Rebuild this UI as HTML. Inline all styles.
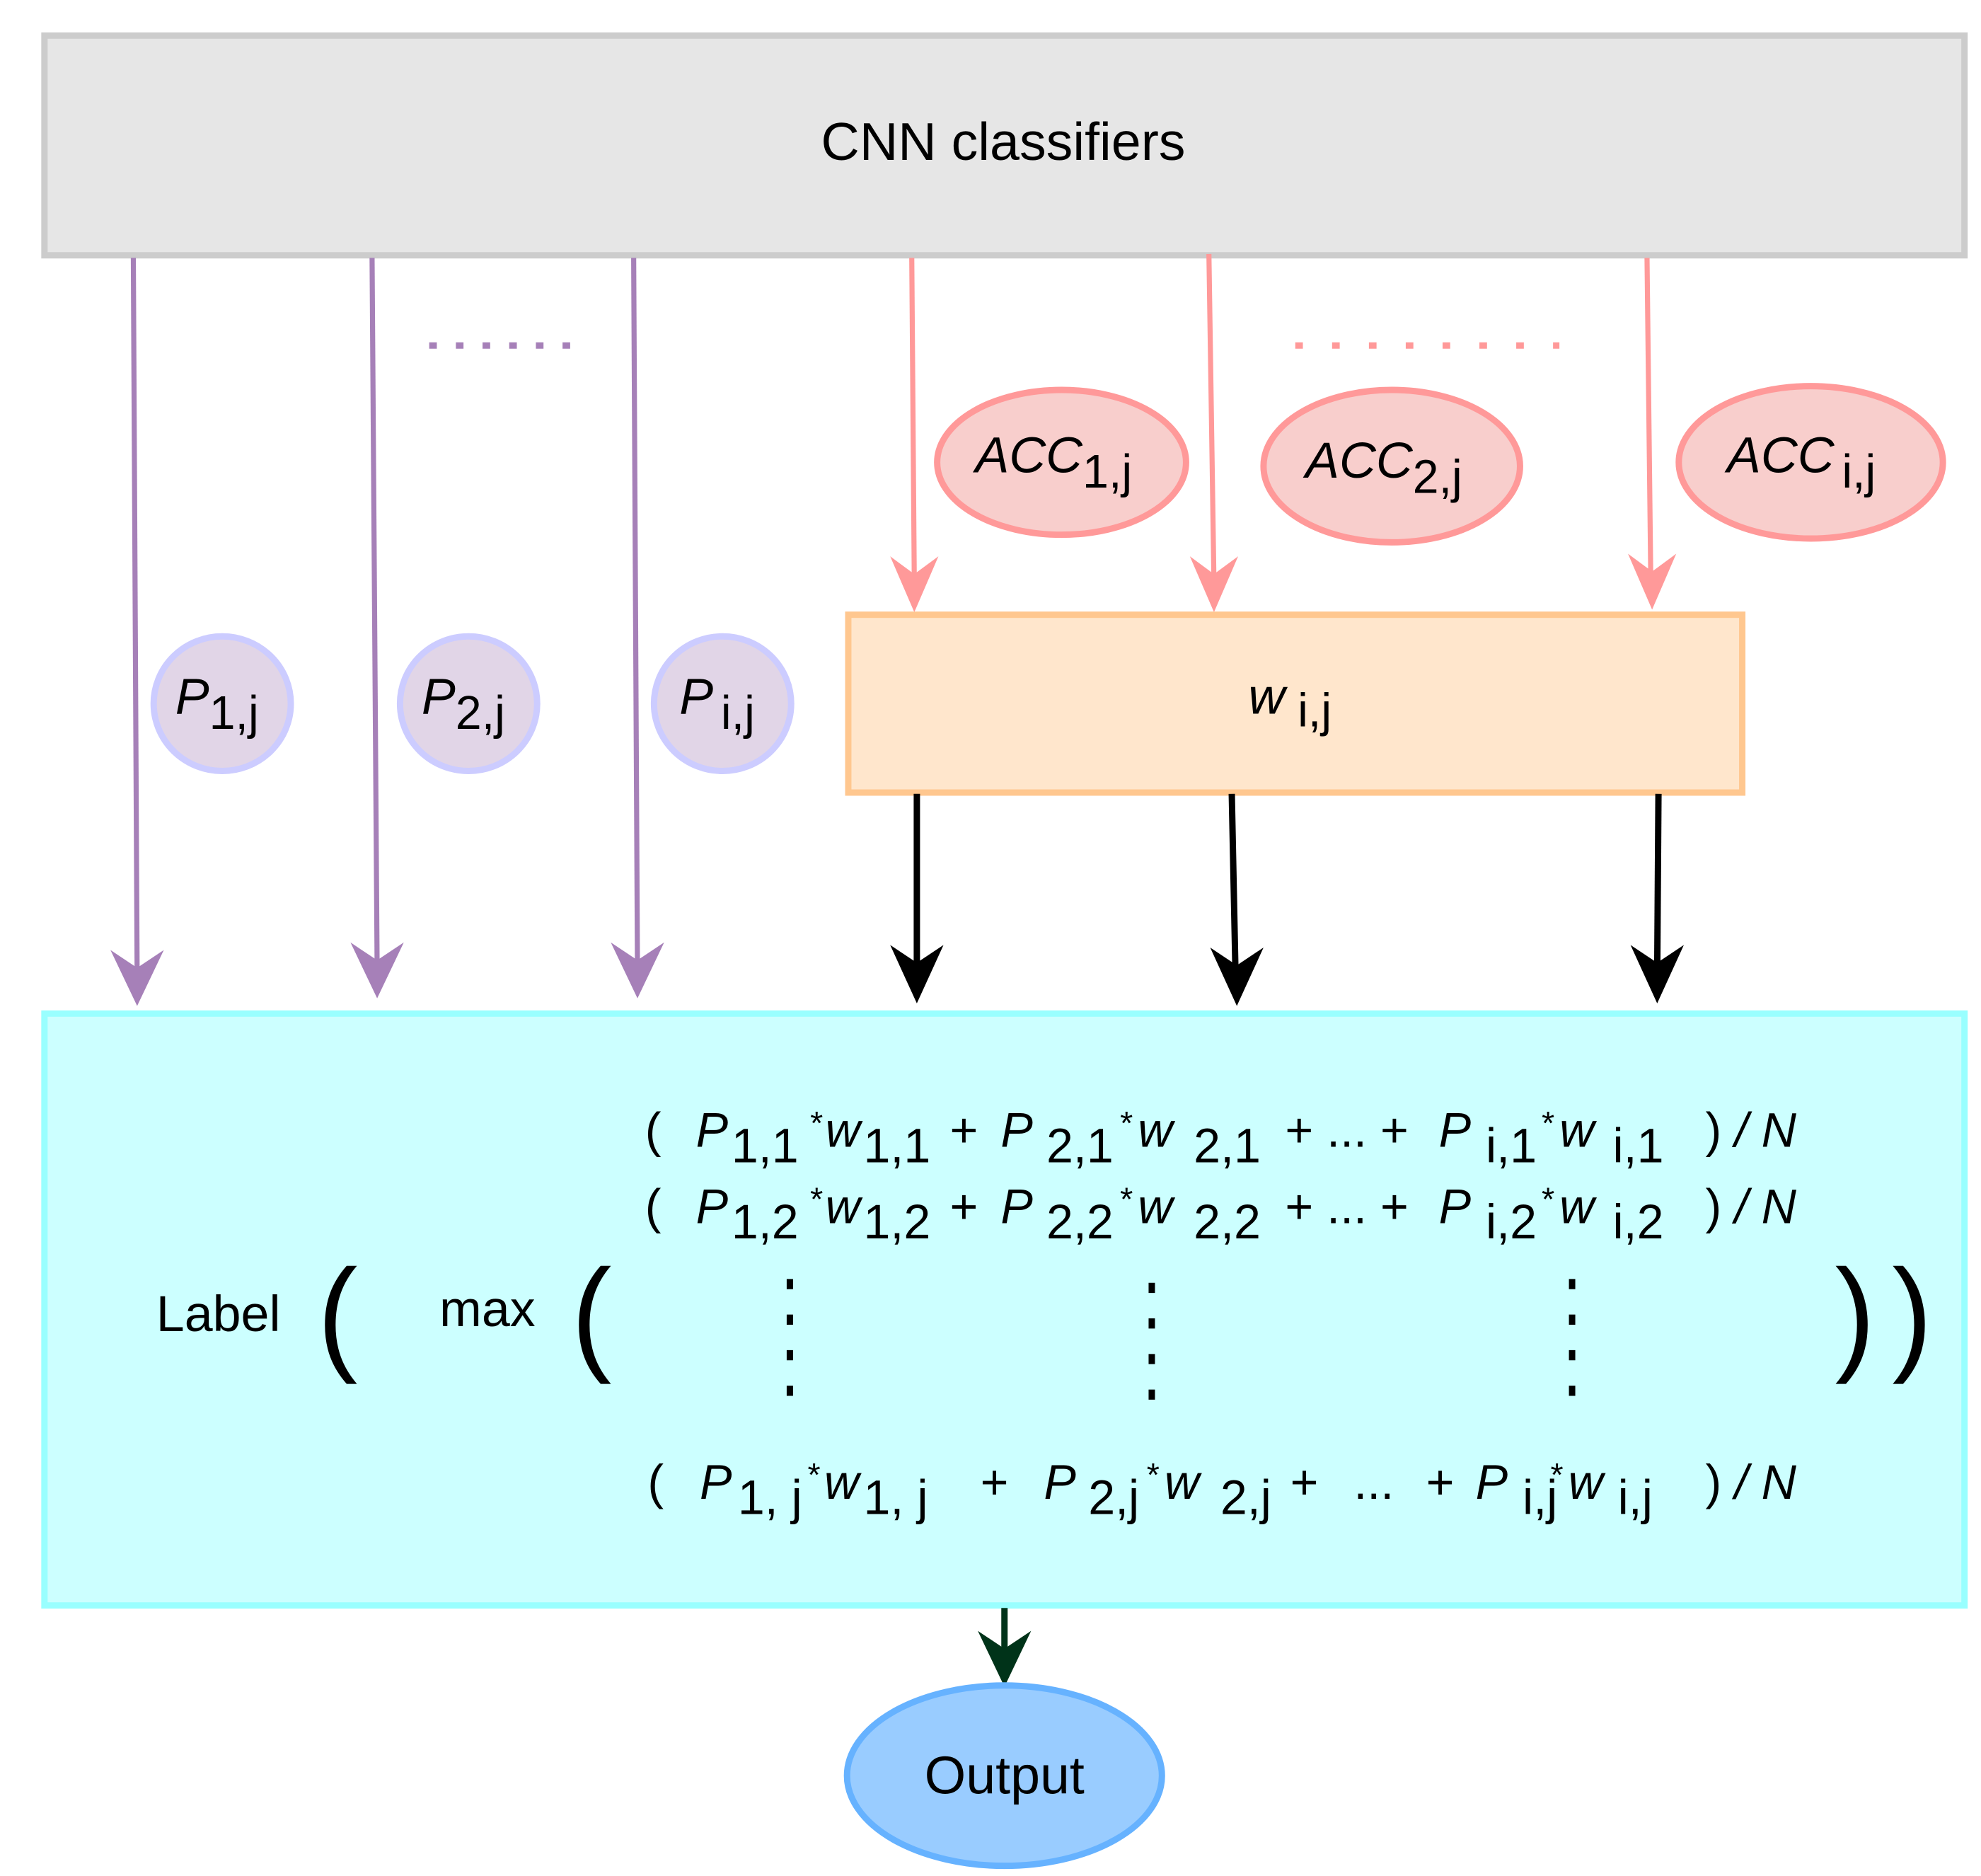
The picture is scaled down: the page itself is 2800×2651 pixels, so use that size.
<!DOCTYPE html>
<html><head><meta charset="utf-8"><style>
html,body{margin:0;padding:0;background:#fff;}
svg{display:block;}
text{font-family:"Liberation Sans",Arial,sans-serif;fill:#000;}
.i{font-style:italic;}
</style></head><body>
<svg width="2800" height="2651" viewBox="0 0 1560 1477" preserveAspectRatio="none" xmlns="http://www.w3.org/2000/svg">
<!-- CNN box -->
<rect x="35" y="28" width="1512" height="173" fill="#e6e6e6" stroke="#cccccc" stroke-width="5"/>
<text x="790" y="126" font-size="42" text-anchor="middle">CNN classifiers</text>

<!-- purple arrows -->
<g stroke="#a680b8" stroke-width="4" fill="none">
<line x1="105" y1="203" x2="108" y2="770"/>
<line x1="293" y1="203" x2="297" y2="765"/>
<line x1="499" y1="203" x2="502" y2="765"/>
<line x1="338" y1="272" x2="458" y2="272" stroke-width="5" stroke-dasharray="6,15"/>
</g>
<g fill="#a680b8">
<path d="M108,792 L87,748 L108,762 L129,748 Z"/>
<path d="M297,786 L276,742 L297,756 L318,742 Z"/>
<path d="M502,786 L481,742 L502,756 L523,742 Z"/>
</g>

<!-- pink arrows -->
<g stroke="#ff9999" stroke-width="4" fill="none">
<line x1="718" y1="203" x2="720" y2="460"/>
<line x1="952" y1="200" x2="956" y2="460"/>
<line x1="1297" y1="203" x2="1300" y2="460"/>
<line x1="1020" y1="272" x2="1228" y2="272" stroke-width="5" stroke-dasharray="6,23"/>
</g>
<g fill="#ff9999">
<path d="M720,482 L701,438 L720,452 L739,438 Z"/>
<path d="M956,482 L937,438 L956,452 L975,438 Z"/>
<path d="M1301,480 L1282,436 L1301,450 L1320,436 Z"/>
</g>

<!-- ACC ellipses -->
<g fill="#f8cecc" stroke="#ff9999" stroke-width="5">
<ellipse cx="836" cy="364" rx="98" ry="57"/>
<ellipse cx="1096" cy="367" rx="101" ry="60"/>
<ellipse cx="1426" cy="364" rx="104" ry="60"/>
</g>
<text x="768" y="372" font-size="40" class="i">ACC<tspan font-style="normal" font-size="37" dy="12">1,j</tspan></text>
<text x="1028" y="376" font-size="40" class="i">ACC<tspan font-style="normal" font-size="37" dy="12">2,j</tspan></text>
<text x="1360" y="372" font-size="40" class="i">ACC<tspan font-style="normal" font-size="37" dx="6" dy="12">i,j</tspan></text>

<!-- P circles -->
<g fill="#e1d5e7" stroke="#ccccff" stroke-width="5">
<ellipse cx="175" cy="554" rx="54" ry="53"/>
<ellipse cx="369" cy="554" rx="54" ry="53"/>
<ellipse cx="569" cy="554" rx="54" ry="53"/>
</g>
<text x="138" y="562" font-size="40" class="i">P<tspan font-style="normal" font-size="37" dy="12">1,j</tspan></text>
<text x="332" y="562" font-size="40" class="i">P<tspan font-style="normal" font-size="37" dy="12">2,j</tspan></text>
<text x="535" y="562" font-size="40" class="i">P<tspan font-style="normal" font-size="37" dx="6" dy="12">i,j</tspan></text>

<!-- w box -->
<rect x="668" y="484" width="704" height="140" fill="#ffe6cc" stroke="#ffc78f" stroke-width="5"/>
<text x="983" y="562" font-size="40" class="i">w<tspan font-style="normal" font-size="37" dx="10" dy="10">i,j</tspan></text>

<!-- black arrows -->
<g stroke="#000" stroke-width="5" fill="none">
<line x1="722" y1="625" x2="722" y2="770"/>
<line x1="970" y1="625" x2="973" y2="770"/>
<line x1="1306" y1="625" x2="1305" y2="770"/>
</g>
<g fill="#000">
<path d="M722,790 L701,744 L722,758 L743,744 Z"/>
<path d="M974,792 L953,746 L974,760 L995,746 Z"/>
<path d="M1305,790 L1284,744 L1305,758 L1326,744 Z"/>
</g>

<!-- cyan box -->
<rect x="35" y="798" width="1512" height="466" fill="#ccffff" stroke="#99ffff" stroke-width="5"/>

<text x="123" y="1048" font-size="40">Label</text>
<text x="346" y="1044" font-size="40">max</text>
<g font-family="Liberation Sans Narrow" font-size="95" transform="scale(1,1.05)">
<text x="250" y="1018" font-family="Liberation Sans Narrow, Liberation Sans, sans-serif">(</text>
<text x="450" y="1018" font-family="Liberation Sans Narrow, Liberation Sans, sans-serif">(</text>
<text x="1445" y="1018" font-family="Liberation Sans Narrow, Liberation Sans, sans-serif">)</text>
<text x="1490" y="1018" font-family="Liberation Sans Narrow, Liberation Sans, sans-serif">)</text>
</g>

<!-- formula line 1 -->
<g font-size="38">
<text x="508" y="903">(</text>
<text x="548" y="903" class="i">P</text><text x="576" y="915">1,1</text><text x="638" y="893" font-size="26">*</text>
<text x="650" y="903" class="i">w</text><text x="680" y="915">1,1</text>
<text x="748" y="903">+</text>
<text x="788" y="903" class="i">P</text><text x="824" y="915">2,1</text><text x="882" y="893" font-size="26">*</text>
<text x="896" y="903" class="i">w</text><text x="940" y="915">2,1</text>
<text x="1012" y="903">+ ... +</text>
<text x="1133" y="903" class="i">P</text><text x="1170" y="915">i,1</text><text x="1214" y="893" font-size="26">*</text>
<text x="1228" y="903" class="i">w</text><text x="1270" y="915">i,1</text>
<text x="1343" y="903">)</text><text x="1366" y="903" class="i">/ N</text>
</g>
<!-- formula line 2 -->
<g font-size="38">
<text x="508" y="963">(</text>
<text x="548" y="963" class="i">P</text><text x="576" y="975">1,2</text><text x="638" y="953" font-size="26">*</text>
<text x="650" y="963" class="i">w</text><text x="680" y="975">1,2</text>
<text x="748" y="963">+</text>
<text x="788" y="963" class="i">P</text><text x="824" y="975">2,2</text><text x="882" y="953" font-size="26">*</text>
<text x="896" y="963" class="i">w</text><text x="940" y="975">2,2</text>
<text x="1012" y="963">+ ... +</text>
<text x="1133" y="963" class="i">P</text><text x="1170" y="975">i,2</text><text x="1214" y="953" font-size="26">*</text>
<text x="1228" y="963" class="i">w</text><text x="1270" y="975">i,2</text>
<text x="1343" y="963">)</text><text x="1366" y="963" class="i">/ N</text>
</g>
<!-- vertical dots -->
<g stroke="#000" stroke-width="5" stroke-dasharray="8,20">
<line x1="622" y1="1007" x2="622" y2="1102"/>
<line x1="907" y1="1010" x2="907" y2="1105"/>
<line x1="1238" y1="1007" x2="1238" y2="1102"/>
</g>
<!-- formula line 3 -->
<g font-size="38">
<text x="510" y="1180">(</text>
<text x="551" y="1180" class="i">P</text><text x="581" y="1192">1, j</text><text x="636" y="1170" font-size="26">*</text>
<text x="649" y="1180" class="i">w</text><text x="680" y="1192">1, j</text>
<text x="772" y="1180">+</text>
<text x="822" y="1180" class="i">P</text><text x="857" y="1192">2,j</text><text x="903" y="1170" font-size="26">*</text>
<text x="917" y="1180" class="i">w</text><text x="961" y="1192">2,j</text>
<text x="1016" y="1180">+</text>
<text x="1066" y="1180">...</text>
<text x="1123" y="1180">+</text>
<text x="1162" y="1180" class="i">P</text><text x="1199" y="1192">i,j</text><text x="1221" y="1170" font-size="26">*</text>
<text x="1235" y="1180" class="i">w</text><text x="1274" y="1192">i,j</text>
<text x="1343" y="1180">)</text><text x="1366" y="1180" class="i">/ N</text>
</g>

<!-- output arrow -->
<line x1="791" y1="1266" x2="791" y2="1310" stroke="#003319" stroke-width="5"/>
<path d="M791,1328 L770,1284 L791,1298 L812,1284 Z" fill="#003319"/>
<ellipse cx="791" cy="1398" rx="124" ry="71" fill="#99ccff" stroke="#66b2ff" stroke-width="5"/>
<text x="791" y="1412" font-size="42" text-anchor="middle">Output</text>
</svg>
</body></html>
